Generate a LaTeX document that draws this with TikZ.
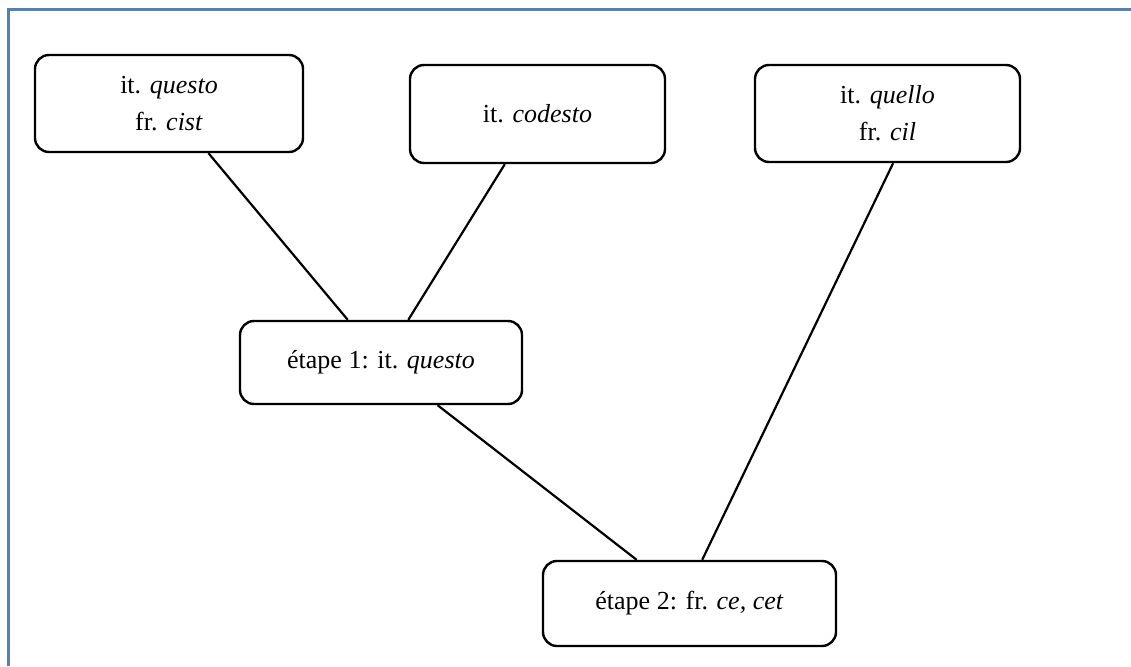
\documentclass[tikz,border=0pt]{standalone}
\usepackage{fontspec}
\setmainfont{Liberation Serif}
\usetikzlibrary{calc}
\definecolor{frameblue}{HTML}{4F81BD}
\tikzset{
  formbox/.style={draw=black, line width=2.4pt, rounded corners=14pt, fill=white,
    align=center, inner sep=0pt, font=\fontsize{26}{37}\selectfont},
  link/.style={draw=black, line width=2.2pt},
}
\begin{document}
\begin{tikzpicture}[x=1pt,y=-1pt]
  \useasboundingbox (0,0) rectangle (1131,666);
  % outer frame (top and left edges)
  \draw[frameblue, line width=3pt] (1131,10) -- (8,10) -- (8,666);

  % source forms
  \node[formbox, minimum width=268pt, minimum height=97pt] (A) at (169,103.5)
    {it. \textit{questo}\\ fr. \textit{cist}};
  \node[formbox, minimum width=255pt, minimum height=98pt] (B) at (537.5,114)
    {it. \textit{codesto}};
  \node[formbox, minimum width=265pt, minimum height=97pt] (C) at (887.5,113.5)
    {it. \textit{quello}\\ fr. \textit{cil}};

  % intermediate stages
  \node[formbox, minimum width=282pt, minimum height=83pt] (D) at (381,362.5)
    {étape 1: it. \textit{questo}};
  \node[formbox, minimum width=293pt, minimum height=85pt] (E) at (689.5,603.5)
    {étape 2: fr. \textit{ce, cet}};

  % connectors
  \draw[link] ($(A.south west)!0.646!(A.south east)$) -- ($(D.north west)!0.383!(D.north east)$);
  \draw[link] ($(B.south west)!0.373!(B.south east)$) -- ($(D.north west)!0.596!(D.north east)$);
  \draw[link] ($(D.south west)!0.699!(D.south east)$) -- ($(E.north west)!0.321!(E.north east)$);
  \draw[link] ($(C.south west)!0.521!(C.south east)$) -- ($(E.north west)!0.543!(E.north east)$);
\end{tikzpicture}
\end{document}
